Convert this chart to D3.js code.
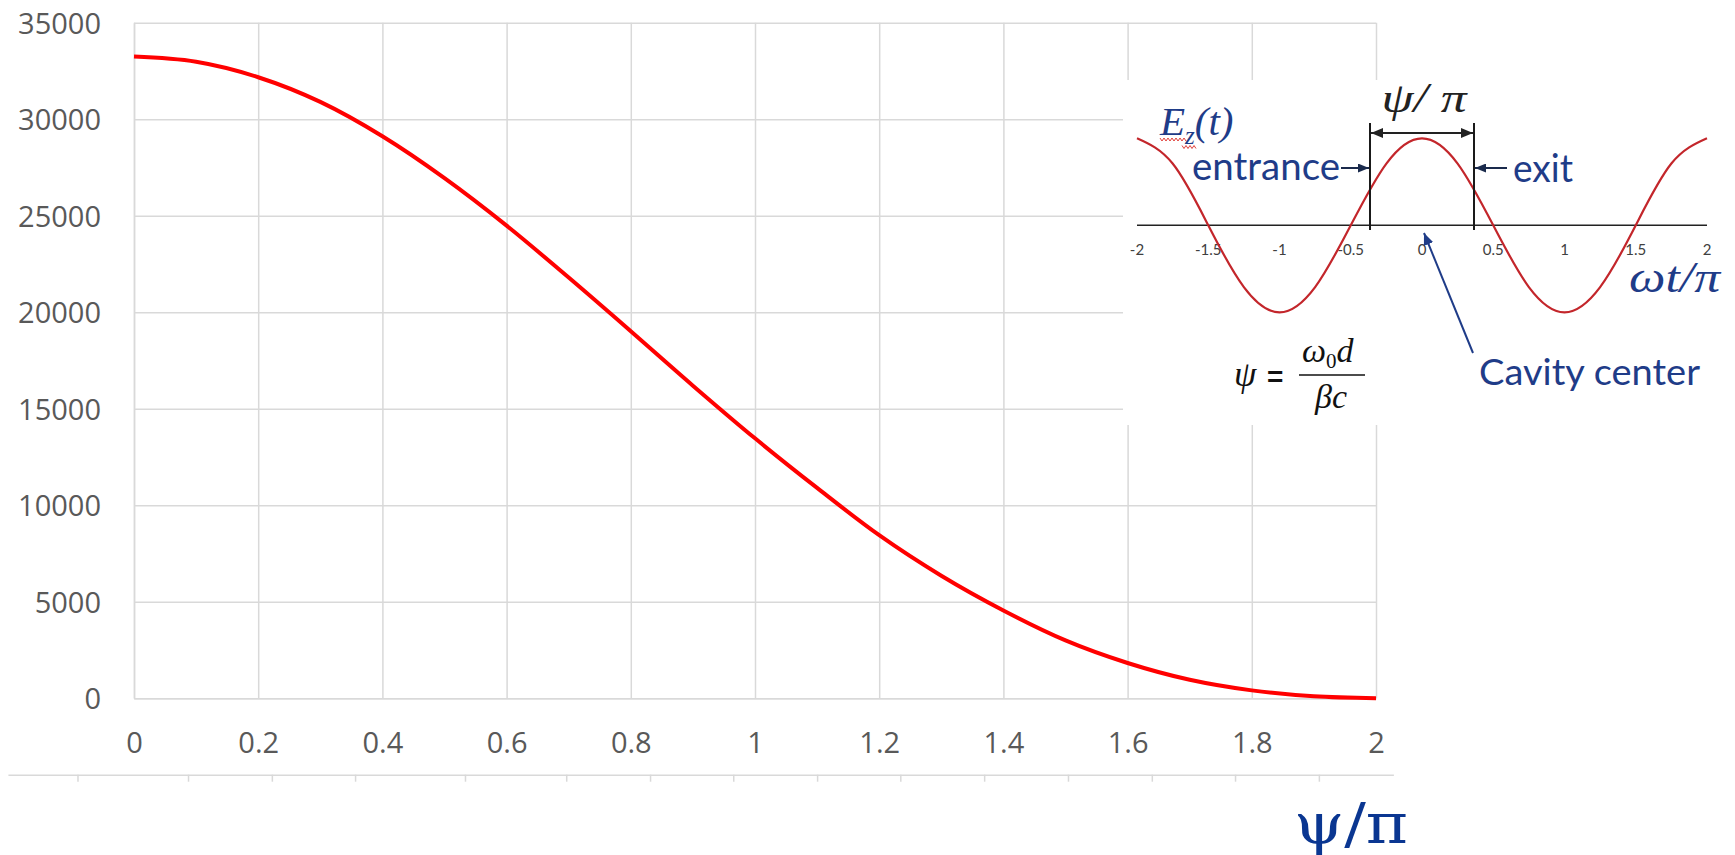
<!DOCTYPE html>
<html>
<head>
<meta charset="utf-8">
<script src="https://cdn.jsdelivr.net/npm/d3@7"></script>
<style>
body { margin: 0; background: #fff; }
svg { display: block; }
</style>
</head>
<body>
<script>
// main curve
var psiValues = [0, 0.1, 0.2, 0.3, 0.4, 0.5, 0.6, 0.7, 0.8, 0.9, 1, 1.1, 1.2, 1.3, 1.4, 1.5, 1.6, 1.7, 1.8, 1.9, 2];
var gainValues = [33250, 32980, 32180, 30900, 29120, 26950, 24490, 21800, 19020, 16200, 13470, 10900, 8450, 6350, 4550, 3000, 1830, 960, 410, 100, 0];
var xTicks = [0, 0.2, 0.4, 0.6, 0.8, 1, 1.2, 1.4, 1.6, 1.8, 2];
var yTicks = [0, 5000, 10000, 15000, 20000, 25000, 30000, 35000];

// inset sketch: Ez(t) against wt/pi
var phase = [-2, -1.75, -1.5, -1.25, -1, -0.75, -0.5, -0.25, 0, 0.25, 0.5, 0.75, 1, 1.25, 1.5, 1.75, 2];
var ezValues = [1, 0.71, 0, -0.71, -1, -0.71, 0, 0.71, 1, 0.71, 0, -0.71, -1, -0.71, 0, 0.71, 1];
var phaseTicks = [-2, -1.5, -1, -0.5, 0, 0.5, 1, 1.5, 2];
var gapEdges = [-0.365, 0.365];

// stray axis strip below the chart (ticks in psi/pi units)
var stripRange = [-0.203, 2.028];
var stripTicks = [-0.091, 0.087, 0.222, 0.356, 0.533, 0.696, 0.831, 0.965, 1.1, 1.234, 1.369, 1.504, 1.639, 1.773, 1.908];

var W = 1735, H = 855;
var navy = "#1f3c88";

var svg = d3.select("body").append("svg")
    .attr("width", W)
    .attr("height", H);

var defs = svg.append("defs");
function marker(id, color, w, h) {
    defs.append("marker")
        .attr("id", id)
        .attr("viewBox", "0 0 " + w + " " + h)
        .attr("refX", w)
        .attr("refY", h / 2)
        .attr("markerWidth", w)
        .attr("markerHeight", h)
        .attr("markerUnits", "userSpaceOnUse")
        .attr("orient", "auto-start-reverse")
        .append("path")
        .attr("d", "M0,0 L" + w + "," + (h / 2) + " L0," + h + " Z")
        .attr("fill", color);
}
marker("headDark", "#222", 12, 10);
marker("headDeep", "#1a2a4c", 11, 9);
marker("headBlue", navy, 12, 10);

var x = d3.scaleLinear().domain([0, 2]).range([134, 1376]);
var y = d3.scaleLinear().domain([0, 35000]).range([698.3, 22.8]);

var yAxis = svg.append("g")
    .attr("transform", "translate(" + x(0) + ",0)")
    .call(d3.axisLeft(y).tickValues(yTicks).tickFormat(d => String(d))
        .tickSize(-(x(2) - x(0))).tickSizeOuter(0).tickPadding(33));

var xAxis = svg.append("g")
    .attr("transform", "translate(0," + y(0) + ")")
    .call(d3.axisBottom(x).tickValues(xTicks).tickFormat(d => String(d))
        .tickSize(-(y(0) - y(35000))).tickSizeOuter(0).tickPadding(34.4));

[yAxis, xAxis].forEach(function (g) {
    g.selectAll(".tick line").attr("stroke", "#d9d9d9").attr("stroke-width", 1.5);
    g.select(".domain").attr("stroke", "#d9d9d9").attr("stroke-width", 1.5);
    g.selectAll("text")
        .attr("fill", "#595959")
        .style("font-family", "'Open Sans', sans-serif")
        .style("font-size", "29px");
});
yAxis.selectAll("text").attr("dy", "0.357em");

// stray strip
var xStrip = d3.scaleLinear().domain(stripRange).range([x(stripRange[0]), x(stripRange[1])]);
var strip = svg.append("g")
    .attr("transform", "translate(0,774.7)")
    .call(d3.axisBottom(xStrip).tickValues(stripTicks).tickFormat("").tickSize(7).tickSizeOuter(0));
strip.selectAll("line").attr("stroke", "#d9d9d9").attr("stroke-width", 1.5);
strip.select(".domain").attr("stroke", "#d9d9d9").attr("stroke-width", 1.5);

var line = d3.line()
    .x((d, i) => x(psiValues[i]))
    .y(d => y(d))
    .curve(d3.curveMonotoneX);

svg.append("path")
    .datum(gainValues)
    .attr("d", line)
    .attr("fill", "none")
    .attr("stroke", "#ff0000")
    .attr("stroke-width", 4);

// ---- inset picture ----
var inset = svg.append("g");
inset.append("rect")
    .attr("x", 1123).attr("y", 80)
    .attr("width", W - 1123).attr("height", 345)
    .attr("fill", "#fff");

var tx = d3.scaleLinear().domain([-2, 2]).range([1137, 1707]);
var ty = d3.scaleLinear().domain([-1, 1]).range([312.3, 138.3]);

inset.selectAll(".ptick")
    .data(phaseTicks)
    .enter().append("text")
    .attr("x", d => tx(d))
    .attr("y", 255)
    .attr("text-anchor", "middle")
    .attr("fill", "#404040")
    .style("font-family", "Lato, sans-serif")
    .style("font-size", "15px")
    .text(d => String(d));

inset.append("line")
    .attr("x1", tx(-2)).attr("x2", tx(2))
    .attr("y1", ty(0)).attr("y2", ty(0))
    .attr("stroke", "#222").attr("stroke-width", 1.6);

inset.append("path")
    .datum(ezValues)
    .attr("d", d3.line().x((d, i) => tx(phase[i])).y(d => ty(d)).curve(d3.curveNatural))
    .attr("fill", "none")
    .attr("stroke", "#c3262b")
    .attr("stroke-width", 2.2);

inset.selectAll(".edge")
    .data(gapEdges)
    .enter().append("line")
    .attr("x1", d => tx(d)).attr("x2", d => tx(d))
    .attr("y1", 123).attr("y2", 230)
    .attr("stroke", "#1a1a1a").attr("stroke-width", 2);

inset.append("line")
    .attr("x1", tx(gapEdges[0]) + 1).attr("x2", tx(gapEdges[1]) - 1)
    .attr("y1", 133).attr("y2", 133)
    .attr("stroke", "#222").attr("stroke-width", 2)
    .attr("marker-start", "url(#headDark)")
    .attr("marker-end", "url(#headDark)");

inset.append("text")
    .attr("x", tx(0) + 2).attr("y", 112)
    .attr("text-anchor", "middle")
    .attr("textLength", 85).attr("lengthAdjust", "spacingAndGlyphs")
    .attr("fill", "#222")
    .style("font-family", "'Liberation Serif', serif")
    .style("font-style", "italic")
    .style("font-size", "42px")
    .text("ψ/ π");

// E_z(t)
var ez = inset.append("text")
    .attr("x", 1160).attr("y", 135)
    .attr("fill", navy)
    .style("font-family", "'Liberation Serif', serif")
    .style("font-style", "italic")
    .style("font-size", "41px");
ez.append("tspan").text("E");
ez.append("tspan").attr("dy", 9).style("font-size", "25px").text("z");
ez.append("tspan").attr("dy", -9).text("(t)");

function squiggle(x0, x1, yy) {
    var pts = d3.range(x0, x1 + 0.1, 2).map((v, i) => [v, yy + (i % 2 ? 1.5 : -1.5)]);
    inset.append("path")
        .attr("d", d3.line()(pts))
        .attr("fill", "none")
        .attr("stroke", "#e0403a")
        .attr("stroke-width", 1);
}
squiggle(1160, 1186, 139.5);
squiggle(1182, 1196, 147);

function label(str, xx, yy, len, size) {
    return inset.append("text")
        .attr("x", xx).attr("y", yy)
        .attr("textLength", len).attr("lengthAdjust", "spacingAndGlyphs")
        .attr("fill", navy)
        .style("font-family", "Lato, sans-serif")
        .style("font-size", size + "px")
        .text(str);
}
label("entrance", 1192, 180, 148, 38);
label("exit", 1513, 182, 60, 38);
label("Cavity center", 1479, 385, 221, 37);

inset.append("line")
    .attr("x1", 1341).attr("x2", tx(gapEdges[0]) - 1)
    .attr("y1", 168).attr("y2", 168)
    .attr("stroke", "#1a2a4c").attr("stroke-width", 2)
    .attr("marker-end", "url(#headDeep)");
inset.append("line")
    .attr("x1", 1507).attr("x2", tx(gapEdges[1]) + 1)
    .attr("y1", 168).attr("y2", 168)
    .attr("stroke", "#1a2a4c").attr("stroke-width", 2)
    .attr("marker-end", "url(#headDeep)");

inset.append("line")
    .attr("x1", 1473).attr("y1", 353)
    .attr("x2", tx(0) + 2).attr("y2", 233)
    .attr("stroke", navy).attr("stroke-width", 2)
    .attr("marker-end", "url(#headBlue)");

inset.append("text")
    .attr("x", 1629).attr("y", 292)
    .attr("textLength", 91).attr("lengthAdjust", "spacingAndGlyphs")
    .attr("fill", navy)
    .style("font-family", "'Liberation Serif', serif")
    .style("font-style", "italic")
    .style("font-size", "44px")
    .text("ωt/π");

// psi = w0 d / (beta c)
var serif = "'Liberation Serif', serif";
inset.append("text")
    .attr("x", 1234).attr("y", 386)
    .attr("fill", "#111")
    .style("font-family", serif).style("font-style", "italic").style("font-size", "36px")
    .text("ψ");
inset.append("text")
    .attr("x", 1267).attr("y", 386)
    .attr("fill", "#111")
    .style("font-family", "'Liberation Sans', sans-serif").style("font-weight", "bold").style("font-size", "28px")
    .text("=");
var num = inset.append("text")
    .attr("x", 1302).attr("y", 362)
    .attr("fill", "#111")
    .style("font-family", serif).style("font-style", "italic").style("font-size", "34px");
num.append("tspan").text("ω");
num.append("tspan").attr("dy", 6).style("font-size", "21px").style("font-style", "normal").text("0");
num.append("tspan").attr("dy", -6).text("d");
inset.append("line")
    .attr("x1", 1299).attr("x2", 1365)
    .attr("y1", 375).attr("y2", 375)
    .attr("stroke", "#111").attr("stroke-width", 1.6);
inset.append("text")
    .attr("x", 1315).attr("y", 408)
    .attr("fill", "#111")
    .style("font-family", serif).style("font-style", "italic").style("font-size", "34px")
    .text("βc");

// axis title under the chart
svg.append("text")
    .attr("x", 1294).attr("y", 843)
    .attr("textLength", 114).attr("lengthAdjust", "spacingAndGlyphs")
    .attr("fill", "#0a3691")
    .style("font-family", "'DejaVu Serif', serif")
    .style("font-size", "56px")
    .text("ψ/π");
</script>
</body>
</html>
